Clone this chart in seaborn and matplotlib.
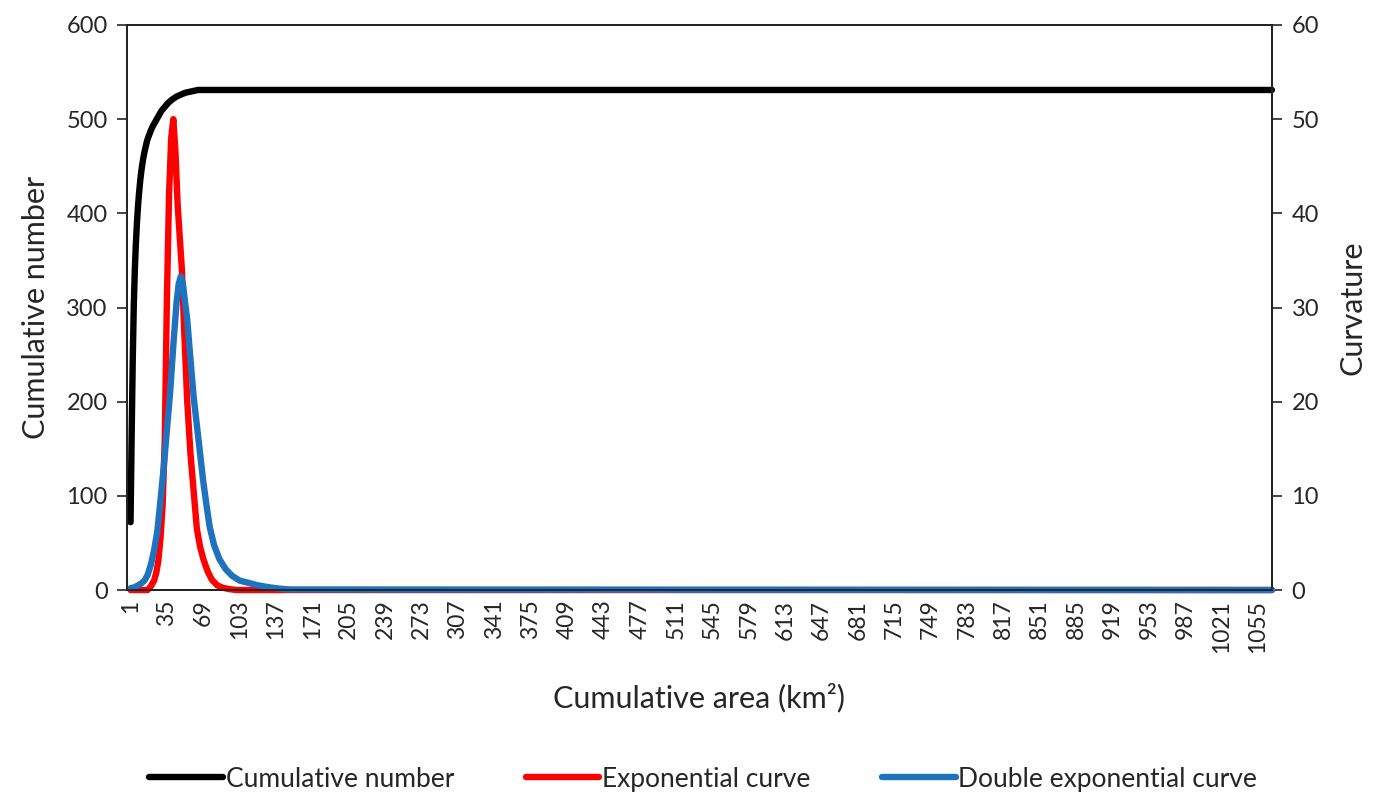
import matplotlib
matplotlib.use('Agg')
import matplotlib.pyplot as plt
import pandas as pd
import seaborn as sns

# cumulative number vs cumulative area class (km2), plateau reached early
number_area = [1, 2, 3, 4, 5, 6, 7, 8, 9, 10, 11, 12, 13, 14, 15, 16, 17, 18, 19, 20,
               22, 24, 26, 28, 30, 33, 36, 40, 44, 48, 52, 56, 64, 1068]
cum_number = [72, 160, 240, 300, 340, 368, 390, 408, 422, 434, 444, 452, 459, 465, 470, 475,
              479, 482, 485, 488, 493, 497, 501, 505, 509, 513, 517, 521, 524, 526, 528, 529, 531, 531]

# curvature of the exponential fit
exp_area = [1, 17, 20, 23, 25, 27, 29, 31, 33, 35, 37, 39, 41, 43, 45, 47, 49, 51, 54, 57,
            60, 63, 66, 69, 73, 77, 82, 87, 93, 100, 1068]
exp_curv = [0, 0, 0.4, 1.0, 1.8, 3.1, 5.5, 9, 16, 31, 42, 48, 50, 46.5, 41, 37.5, 34, 28, 20, 14.5,
            10.5, 6.5, 4.6, 3.3, 2.0, 1.1, 0.5, 0.25, 0.1, 0, 0]

# curvature of the double exponential fit
dexp_area = [1, 5, 8, 11, 14, 17, 20, 23, 26, 29, 32, 35, 38, 41, 44, 46, 48, 50, 52, 54,
             57, 60, 63, 66, 69, 72, 75, 79, 84, 90, 96, 103, 110, 120, 130, 140, 150, 1068]
dexp_curv = [0.2, 0.3, 0.5, 0.7, 1.0, 1.6, 2.7, 4.2, 6.2, 9.5, 13, 17, 21, 26, 30.5, 32.5, 33.3, 32.5, 30.5, 28.7,
             24.5, 20.5, 17.5, 14.5, 11.5, 9, 6.7, 4.8, 3.3, 2.2, 1.5, 1.0, 0.8, 0.5, 0.3, 0.15, 0.05, 0]

tick_cats = list(range(1, 1056, 34))

df_num = pd.DataFrame({'area': number_area, 'value': cum_number})
df_exp = pd.DataFrame({'area': exp_area, 'value': exp_curv})
df_dexp = pd.DataFrame({'area': dexp_area, 'value': dexp_curv})

sns.set_style('white')
plt.rcParams['font.family'] = ['Lato', 'DejaVu Sans']

fig = plt.figure(figsize=(13.79, 8.01), dpi=100)
ax = fig.add_axes([0.0921, 0.2634, 0.8303, 0.7054])
ax2 = ax.twinx()

sns.lineplot(data=df_num, x='area', y='value', ax=ax, color='black', lw=4.6,
             label='Cumulative number', clip_on=False)
sns.lineplot(data=df_exp, x='area', y='value', ax=ax2, color='#ff0000', lw=4.6,
             label='Exponential curve', clip_on=False)
sns.lineplot(data=df_dexp, x='area', y='value', ax=ax2, color='#1f72be', lw=4.6,
             label='Double exponential curve', clip_on=False)

ax.set_xlim(-2.3, 1068)
ax.set_ylim(0, 600)
ax2.set_ylim(0, 60)
ax.set_yticks(range(0, 601, 100))
ax2.set_yticks(range(0, 61, 10))
ax.set_xticks(tick_cats)
ax.set_xticklabels([str(t) for t in tick_cats], rotation=90, fontsize=16.5)

ax.tick_params(axis='y', left=True, direction='out', length=7, width=1.2, labelsize=17, pad=7)
ax2.tick_params(axis='y', right=True, direction='out', length=7, width=1.2, labelsize=17, pad=7)
ax.tick_params(axis='x', length=0, pad=7)

for a in (ax, ax2):
    for s in a.spines.values():
        s.set_color('#222222')
        s.set_linewidth(1.3)

ax.set_xlabel('Cumulative area (km²)', fontsize=22, labelpad=22)
ax.set_ylabel('Cumulative number', fontsize=22, labelpad=12)
ax2.set_ylabel('Curvature', fontsize=22, labelpad=14)

h1, l1 = ax.get_legend_handles_labels()
h2, l2 = ax2.get_legend_handles_labels()
for a in (ax, ax2):
    if a.get_legend() is not None:
        a.get_legend().remove()
fig.legend(h1 + h2, l1 + l2, loc='lower center', bbox_to_anchor=(0.51, -0.018), ncol=3,
           frameon=False, fontsize=19, handlelength=2.8, handletextpad=0.1, columnspacing=2.7)

fig.savefig('out.png', dpi=100)
